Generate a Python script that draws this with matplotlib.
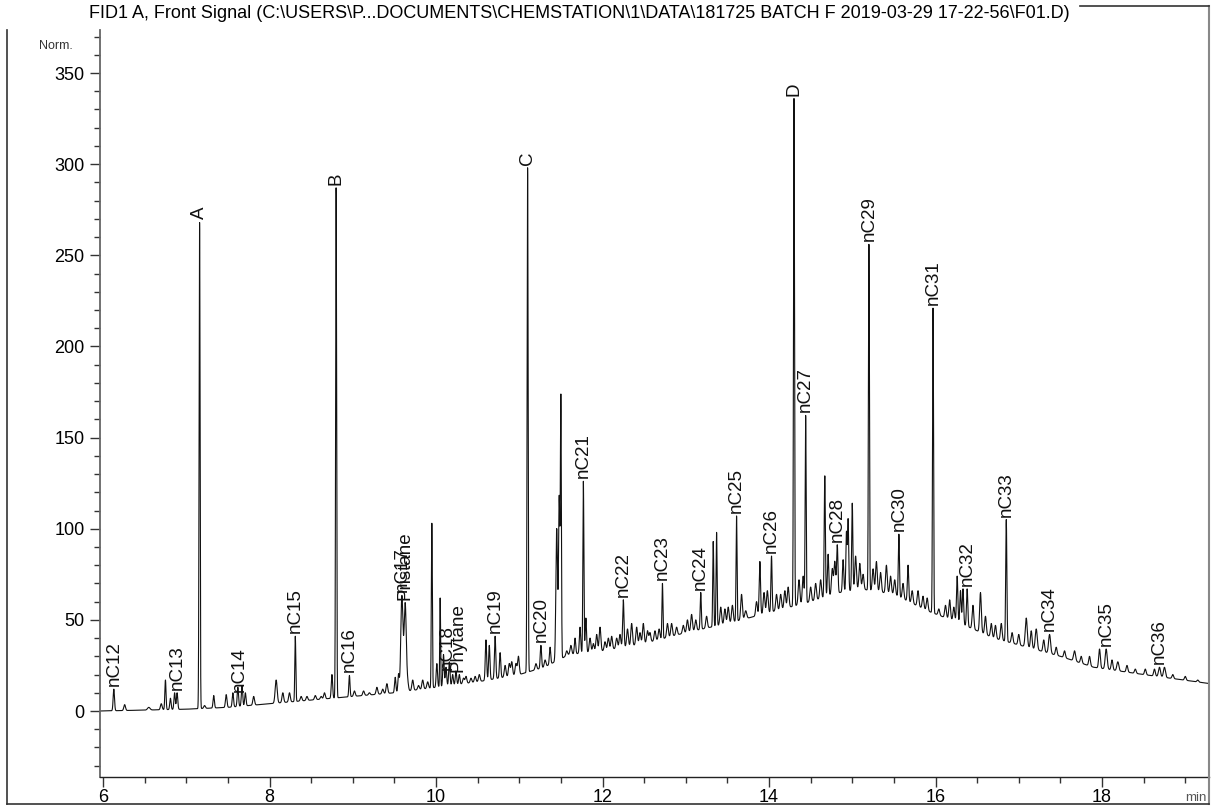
import numpy as np
import matplotlib
matplotlib.use('Agg')
import matplotlib.pyplot as plt
from matplotlib.lines import Line2D
from matplotlib.ticker import MultipleLocator

plt.rcParams['font.family'] = ['Liberation Sans', 'DejaVu Sans']

title = ("FID1 A, Front Signal (C:\\USERS\\P...DOCUMENTS\\CHEMSTATION\\1\\DATA\\"
         "181725 BATCH F 2019-03-29 17-22-56\\F01.D)")

# Unresolved hump (baseline)
base_t = [5.96, 6.5, 7.0, 7.5, 8.0, 8.5, 9.0, 9.5, 10.0, 10.5, 11.0, 11.3, 11.6,
          12.0, 12.5, 13.0, 13.5, 14.0, 14.5, 14.85, 15.1, 15.5, 15.9, 16.3,
          16.7, 17.1, 17.5, 17.9, 18.5, 19.3]
base_v = [0, 0.5, 1, 2, 4, 6, 8, 10, 13, 16, 20, 24, 31,
          33, 37, 43, 48, 54, 60, 65, 67, 64, 55, 48,
          40, 35, 30, 24, 20, 15]

# Peaks: retention time (min), apex signal, width (min)
peak_t = [6.13, 6.26, 6.55, 6.70, 6.75, 6.81, 6.86, 6.89, 7.16, 7.22,
          7.33, 7.48, 7.56, 7.62, 7.67, 7.71, 7.81, 8.08, 8.16, 8.24,
          8.31, 8.38, 8.45, 8.55, 8.62, 8.66, 8.75, 8.80, 8.96, 9.02,
          9.13, 9.20, 9.29, 9.36, 9.41, 9.51, 9.55, 9.59, 9.63, 9.66,
          9.72, 9.79, 9.84, 9.90, 9.95, 10.01, 10.05, 10.09, 10.12, 10.16,
          10.20, 10.24, 10.28, 10.33, 10.36, 10.42, 10.47, 10.52, 10.60, 10.64,
          10.71, 10.77, 10.83, 10.88, 10.91, 10.96, 10.99, 11.10, 11.20, 11.26,
          11.31, 11.37, 11.45, 11.48, 11.50, 11.57, 11.62, 11.67, 11.73, 11.77,
          11.80, 11.85, 11.89, 11.93, 11.97, 12.03, 12.07, 12.11, 12.17, 12.21,
          12.25, 12.30, 12.35, 12.41, 12.45, 12.49, 12.54, 12.57, 12.63, 12.68,
          12.72, 12.78, 12.83, 12.89, 12.97, 13.02, 13.07, 13.12, 13.18, 13.25,
          13.33, 13.37, 13.42, 13.47, 13.51, 13.56, 13.61, 13.67, 13.72, 13.85,
          13.89, 13.94, 13.98, 14.03, 14.09, 14.14, 14.19, 14.23, 14.30, 14.36,
          14.41, 14.44, 14.50, 14.56, 14.62, 14.67, 14.71, 14.76, 14.79, 14.82,
          14.89, 14.93, 14.95, 15.00, 15.04, 15.09, 15.13, 15.20, 15.25, 15.29,
          15.34, 15.41, 15.46, 15.51, 15.56, 15.61, 15.67, 15.72, 15.79, 15.85,
          15.90, 15.97, 16.04, 16.12, 16.17, 16.22, 16.26, 16.30, 16.33, 16.38,
          16.45, 16.54, 16.60, 16.67, 16.72, 16.79, 16.85, 16.92, 17.00, 17.09,
          17.15, 17.21, 17.30, 17.37, 17.45, 17.55, 17.67, 17.75, 17.85, 17.97,
          18.05, 18.12, 18.19, 18.30, 18.40, 18.52, 18.63, 18.69, 18.75, 18.85,
          19.00, 19.15]
peak_top = [12, 3.5, 2, 4, 17, 7, 10, 10, 268, 3,
            8.5, 9, 10, 13, 14, 10, 8, 17, 10, 10,
            41, 8, 8, 8.5, 8, 10, 20, 287, 19.5, 11,
            11, 10, 13, 12, 15, 18.5, 20, 63, 59, 15,
            17, 14, 17, 16, 103, 26, 62, 31, 24, 27,
            20, 22, 20, 18, 19, 18, 19, 20, 39, 36,
            41, 32, 25, 26, 27, 26, 30, 298, 26, 36,
            28, 35, 100, 117, 170, 33, 36, 40, 46, 126,
            51, 40, 37, 42, 46, 38, 40, 41, 40, 42,
            61, 45, 48, 46, 43, 48, 44, 43, 44, 45,
            70, 48, 48, 46, 47, 50, 53, 50, 65, 52,
            93, 98, 57, 56, 57, 58, 107, 64, 55, 60,
            82, 65, 66, 85, 64, 64, 66, 68, 336, 72,
            74, 162, 68, 70, 72, 129, 86, 78, 82, 91,
            83, 98, 105, 114, 85, 81, 75, 256, 78, 82,
            76, 80, 74, 72, 97, 70, 80, 66, 66, 63,
            62, 221, 56, 58, 61, 57, 74, 66, 67, 67,
            58, 65, 52, 48, 47, 48, 105, 43, 42, 51,
            44, 45, 39, 42, 35, 33, 33, 30, 30, 34,
            34, 28, 27, 25, 23, 23, 23, 24, 24, 20,
            19, 17]
peak_w = [0.008, 0.010, 0.015, 0.010, 0.007, 0.008, 0.008, 0.008, 0.006, 0.010,
          0.008, 0.009, 0.008, 0.008, 0.008, 0.008, 0.010, 0.012, 0.010, 0.010,
          0.006, 0.010, 0.010, 0.010, 0.010, 0.010, 0.008, 0.006, 0.007, 0.010,
          0.010, 0.010, 0.010, 0.010, 0.010, 0.008, 0.008, 0.013, 0.013, 0.010,
          0.010, 0.010, 0.010, 0.010, 0.006, 0.008, 0.005, 0.008, 0.008, 0.008,
          0.008, 0.008, 0.008, 0.010, 0.010, 0.010, 0.010, 0.010, 0.008, 0.008,
          0.008, 0.008, 0.010, 0.010, 0.010, 0.010, 0.010, 0.006, 0.010, 0.008,
          0.010, 0.008, 0.010, 0.008, 0.006, 0.010, 0.010, 0.008, 0.008, 0.006,
          0.008, 0.010, 0.010, 0.010, 0.010, 0.010, 0.010, 0.010, 0.010, 0.010,
          0.008, 0.010, 0.010, 0.010, 0.010, 0.010, 0.010, 0.010, 0.010, 0.010,
          0.006, 0.010, 0.010, 0.010, 0.010, 0.010, 0.010, 0.010, 0.007, 0.010,
          0.006, 0.006, 0.010, 0.010, 0.010, 0.010, 0.006, 0.010, 0.012, 0.010,
          0.008, 0.010, 0.010, 0.007, 0.010, 0.010, 0.010, 0.010, 0.006, 0.010,
          0.010, 0.006, 0.010, 0.010, 0.010, 0.007, 0.008, 0.010, 0.010, 0.008,
          0.008, 0.007, 0.007, 0.007, 0.010, 0.010, 0.010, 0.006, 0.010, 0.010,
          0.010, 0.010, 0.010, 0.010, 0.007, 0.010, 0.008, 0.010, 0.010, 0.010,
          0.010, 0.006, 0.010, 0.010, 0.010, 0.010, 0.008, 0.008, 0.008, 0.008,
          0.010, 0.010, 0.010, 0.010, 0.010, 0.010, 0.007, 0.010, 0.010, 0.012,
          0.010, 0.012, 0.010, 0.012, 0.010, 0.010, 0.012, 0.010, 0.010, 0.010,
          0.012, 0.010, 0.012, 0.010, 0.010, 0.010, 0.010, 0.012, 0.012, 0.010,
          0.010, 0.010]

# Peak annotations
label_names = ["nC12", "nC13", "A", "nC14", "nC15", "B", "nC16", "nC17", "Pristane",
               "nC18", "Phytane", "nC19", "C", "nC20", "nC21", "nC22", "nC23",
               "nC24", "nC25", "nC26", "D", "nC27", "nC28", "nC29", "nC30",
               "nC31", "nC32", "nC33", "nC34", "nC35", "nC36"]
label_t = [6.13, 6.89, 7.16, 7.64, 8.31, 8.80, 8.96, 9.59, 9.63,
           10.14, 10.27, 10.71, 11.10, 11.26, 11.77, 12.25, 12.72,
           13.18, 13.61, 14.03, 14.30, 14.44, 14.82, 15.20, 15.56,
           15.97, 16.38, 16.85, 17.37, 18.05, 18.69]

xticks = [6, 8, 10, 12, 14, 16, 18]
yticks = [0, 50, 100, 150, 200, 250, 300, 350]

W, H = 1221, 806
fig = plt.figure(figsize=(W / 100, H / 100), dpi=100)
ax = fig.add_axes([100 / W, (H - 777) / H, 1109 / W, 747 / H])

t = np.arange(5.964, 19.286, 0.001)
sig = np.interp(t, base_t, base_v)
for pt, top, w in zip(peak_t, peak_top, peak_w):
    amp = max(top - np.interp(pt, base_t, base_v), 0.5)
    sig = sig + amp * np.exp(-0.5 * ((t - pt) / w) ** 2)

ax.plot(t, sig, color='#111111', lw=0.8)

for name, lt in zip(label_names, label_t):
    m = np.abs(t - lt) < 0.012
    yv = sig[m].max()
    ax.annotate(name, xy=(lt, yv), xytext=(0, 3), textcoords='offset pixels',
                rotation=90, ha='center', va='bottom', fontsize=13.5,
                color='#111111')

ax.set_xlim(5.964, 19.285)
ax.set_ylim(-36.2, 373.6)
for s in ['top', 'right']:
    ax.spines[s].set_visible(False)
ax.spines['left'].set_color('#666666')
ax.spines['left'].set_linewidth(1.3)
ax.spines['bottom'].set_color('#222222')
ax.spines['bottom'].set_linewidth(1.0)
ax.set_xticks(xticks)
ax.set_yticks(yticks)
ax.xaxis.set_minor_locator(MultipleLocator(0.5))
ax.yaxis.set_minor_locator(MultipleLocator(10))
ax.tick_params(axis='both', which='major', direction='out', length=7,
               width=1, colors='#333333', labelsize=13, labelcolor='black')
ax.tick_params(axis='both', which='minor', direction='out', length=4,
               width=1, colors='#333333')
ax.tick_params(axis='x', pad=2)
ax.tick_params(axis='y', pad=4)

fig.text(89 / W, 1 - 13 / H, title, ha='left', va='center', fontsize=13)
fig.text(56 / W, 1 - 46 / H, 'Norm.', ha='center', va='center', fontsize=9,
         color='#333333')
fig.text(1196 / W, 1 - 798 / H, 'min', ha='center', va='center', fontsize=9.5,
         color='#555555')

# frame around the plot
def fl(x0, y0, x1, y1, c='#333333', lw=1.2):
    fig.add_artist(Line2D([x0 / W, x1 / W], [1 - y0 / H, 1 - y1 / H],
                          color=c, lw=lw))

fl(1209, 6, 1209, 804, c='#888888', lw=1.5)
fl(7, 804, 1209, 804)
fl(7, 30, 7, 804)
fl(1080, 6, 1209, 6)

fig.savefig('out.png', dpi=100)
